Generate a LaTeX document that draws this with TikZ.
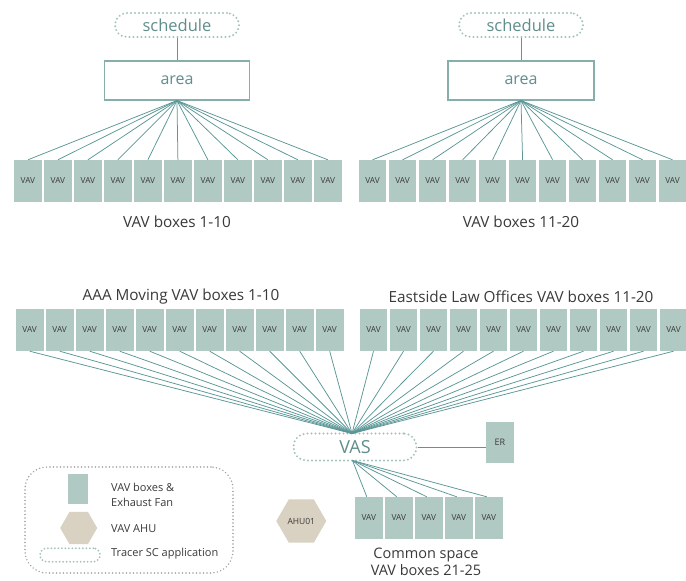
\documentclass[tikz,border=0pt]{standalone}
\usepackage{fontspec}
\setmainfont{Open Sans}
\usetikzlibrary{shapes.geometric,calc}
\definecolor{boxfill}{HTML}{B1C9C3}
\definecolor{linecol}{HTML}{5B9797}
\definecolor{dotcol}{HTML}{A3C3BE}
\definecolor{areaborder}{HTML}{86AFAB}
\definecolor{tealtext}{HTML}{5F8E8B}
\definecolor{hexfill}{HTML}{D9D1C1}
\definecolor{darktext}{HTML}{3A3A3A}
\definecolor{legborder}{HTML}{A0A0A0}
\tikzset{
  vavbox/.style={draw=none,fill=boxfill,minimum width=27.7pt,minimum height=42pt,inner sep=0pt,
    font=\fontsize{8.3}{9}\selectfont,text=darktext},
  conn/.style={draw=linecol,line width=0.75pt},
  appbox/.style={draw=dotcol,line width=2.2pt,dash pattern=on 0pt off 4pt,line cap=round,
    rounded corners=12pt,minimum height=24pt,inner sep=0pt,text=tealtext,font=\fontsize{16.5}{18}\selectfont},
  areabox/.style={draw=areaborder,line width=1.1pt,minimum width=145pt,minimum height=39pt,inner sep=0pt,
    text=tealtext,font=\fontsize{16}{18}\selectfont},
  caption/.style={text=darktext,font=\fontsize{15.3}{17}\selectfont,inner sep=0pt},
  legtext/.style={text=darktext,font=\fontsize{11}{15}\selectfont,inner sep=0pt,anchor=west,align=left},
  hexnode/.style={regular polygon,regular polygon sides=6,fill=hexfill,draw=none,inner sep=0pt,
    font=\fontsize{8.5}{9}\selectfont,text=darktext},
}
\begin{document}
\begin{tikzpicture}[x=1pt,y=-1pt]
\useasboundingbox[fill=white] (0,0) rectangle (686,581);

% ---------- top left ----------
\node[appbox,minimum width=124pt] (sch1) at (177,25) {schedule};
\node[areabox] (area1) at (177,80.5) {area};
\draw[conn] (sch1) -- (area1);
\foreach \i in {1,...,11}{
  \node[vavbox] (tl\i) at ({27.9+30*(\i-1)},181) {VAV};
  \draw[conn] (area1.south) -- (tl\i.north);
}
\node[caption] (cap1) at (177,222) {VAV boxes 1-10};

% ---------- top right ----------
\node[appbox,minimum width=124pt] (sch2) at (521,25) {schedule};
\node[areabox,minimum width=146pt] (area2) at (521,80.5) {area};
\draw[conn] (sch2) -- (area2);
\foreach \i in {1,...,11}{
  \node[vavbox] (tr\i) at ({372.6+30*(\i-1)},181) {VAV};
  \draw[conn] (area2.south) -- (tr\i.north);
}
\node[caption] (cap2) at (521,222) {VAV boxes 11-20};

% ---------- middle ----------
\node[caption] (cap3) at (181,297) {AAA Moving VAV boxes 1-10};
\node[caption] (cap4) at (521,297) {Eastside Law Offices VAV boxes 11-20};

\node[appbox,minimum width=123pt,minimum height=27pt,rounded corners=13pt,font=\fontsize{18}{20}\selectfont] (vas) at (355,447) {VAS};
\coordinate (vastop) at (352,433.5);
\coordinate (vasbot) at (352.5,460.5);

\foreach \i in {1,...,11}{
  \node[vavbox] (ml\i) at ({29.7+30*(\i-1)},330) {VAV};
  \draw[conn] (ml\i.south) -- (vastop);
  \node[vavbox] (mr\i) at ({373.5+30*(\i-1)},330) {VAV};
  \draw[conn] (mr\i.south) -- (vastop);
}

% ER
\node[vavbox,minimum height=41pt,font=\fontsize{9}{10}\selectfont] (er) at (500,442.5) {ER};
\draw[conn,line width=1pt] (vas.east) -- (vas.east -| er.west);

% bottom boxes
\foreach \i in {1,...,5}{
  \node[vavbox] (b\i) at ({368.8+30*(\i-1)},518) {VAV};
  \draw[conn] (vasbot) -- ($(b\i.north)+(-2,0)$);
}
\node[caption,align=center,font=\fontsize{14.5}{17}\selectfont] (cap5) at (426,561.5) {Common space\\VAV boxes 21-25};

% AHU
\node[hexnode,minimum size=50pt] (ahu) at (301.3,521) {AHU01};

% ---------- legend ----------
\node[draw=legborder,line width=1.6pt,dash pattern=on 0pt off 3.5pt,line cap=round,rounded corners=22pt,
  minimum width=208pt,minimum height=106pt,inner sep=0pt] (legend) at (129,520) {};
\node[fill=boxfill,minimum width=20.6pt,minimum height=30pt,inner sep=0pt] (legvav) at (78,489) {};
\node[legtext] (legvavt) at (111,494.5) {VAV boxes \&\\Exhaust Fan};
\node[hexnode,minimum size=37pt] (leghex) at (78.7,528) {};
\node[legtext] (leghext) at (111,528.5) {VAV AHU};
\node[appbox,line width=2pt,dash pattern=on 0pt off 3.5pt,minimum width=60pt,minimum height=13.5pt,rounded corners=6.7pt] (legapp) at (70,555) {};
\node[legtext] (legappt) at (111,553.5) {Tracer SC application};
\end{tikzpicture}
\end{document}
